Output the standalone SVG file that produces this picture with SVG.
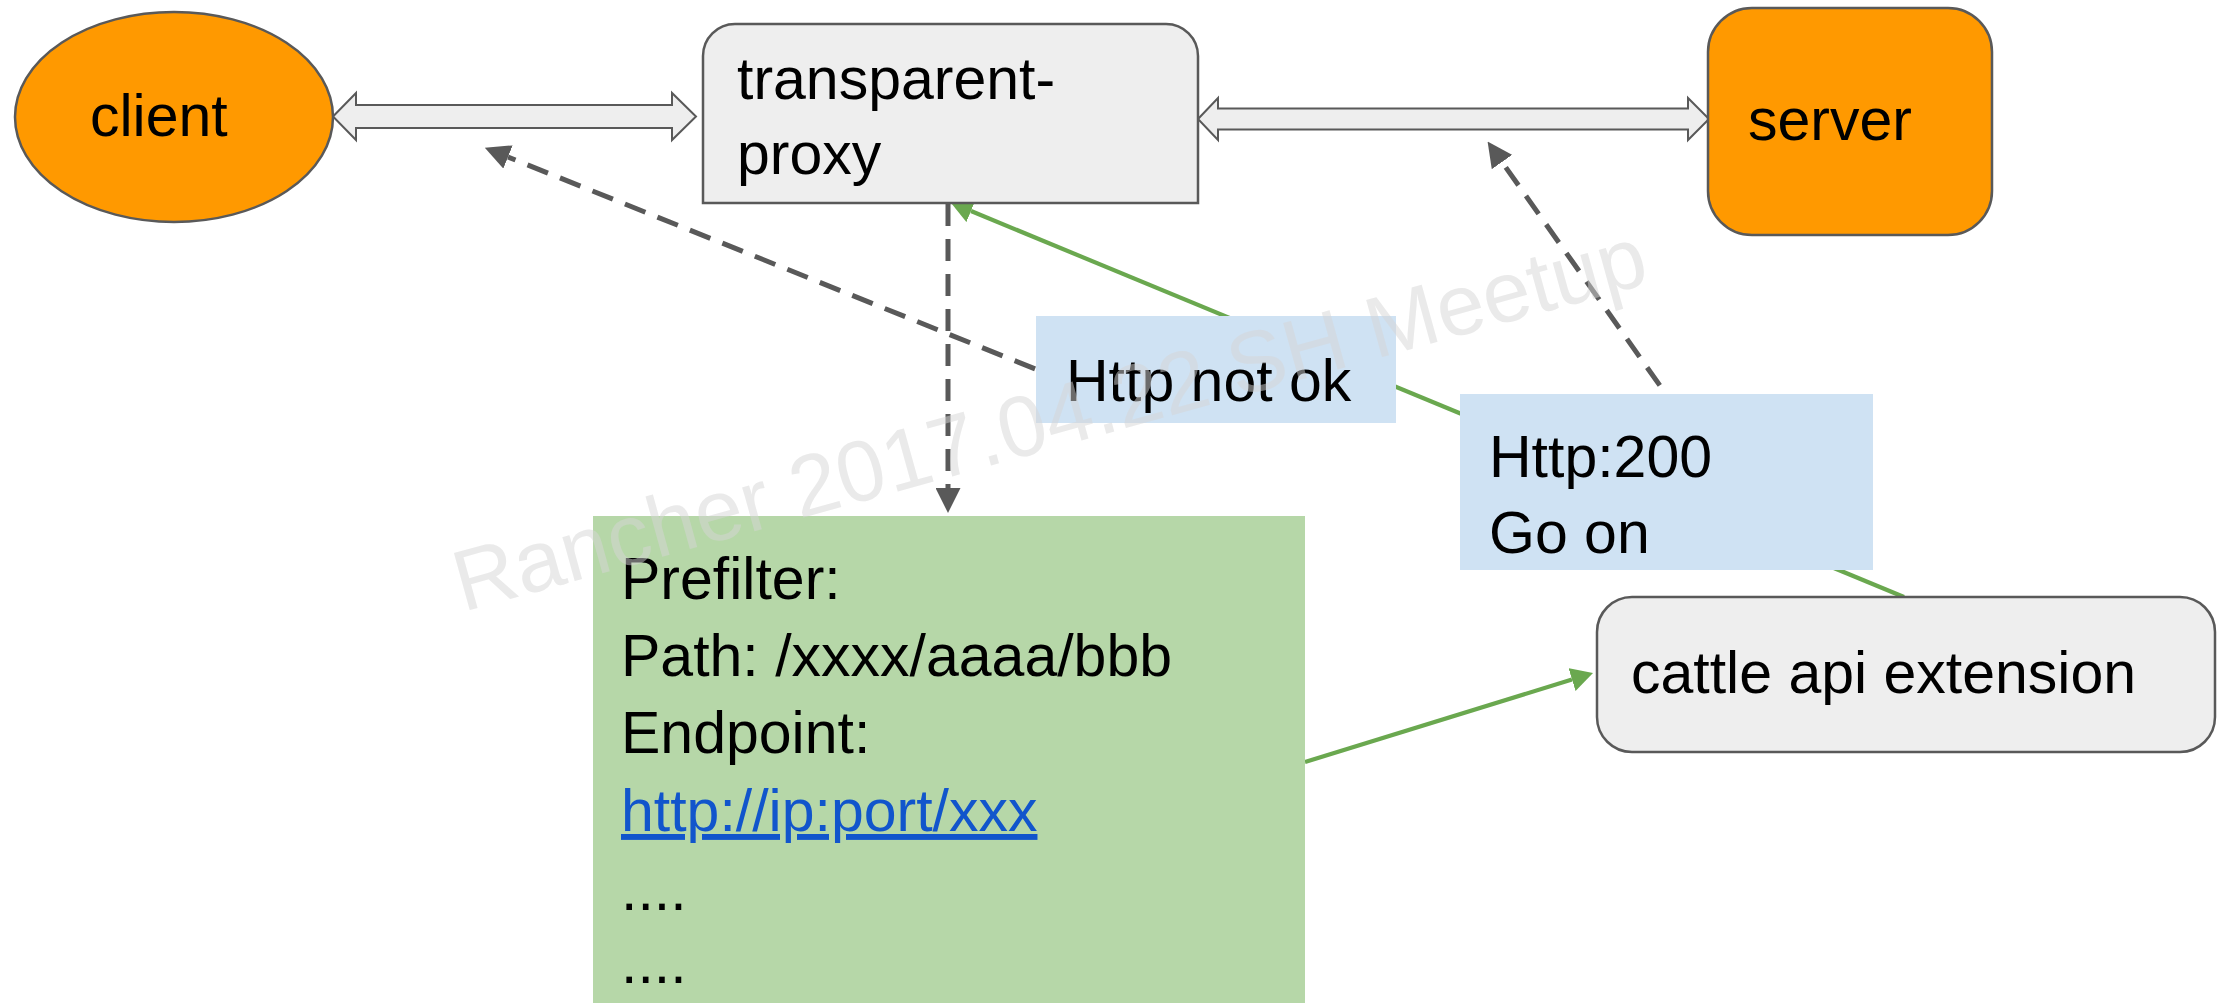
<svg xmlns="http://www.w3.org/2000/svg" width="2219" height="1003" viewBox="0 0 2219 1003">
<style>
.t{font-family:"Liberation Sans",Arial,sans-serif;font-size:59px;fill:#000}
.node{stroke:#595959;stroke-width:2.5}
.grey{fill:#eeeeee}
.orange{fill:#ff9900}
.label{fill:#cfe2f3}
.dash{fill:none;stroke:#595959;stroke-width:5;stroke-dasharray:22 13}
.green{fill:none;stroke:#6aa84f;stroke-width:4.2}
.block{fill:#eeeeee;stroke:#595959;stroke-width:2}
.link{fill:#1155cc;text-decoration:underline}
.wm{font-family:"Liberation Sans",Arial,sans-serif;font-size:86px;fill:#d6d6d6;opacity:0.5}
</style>
<defs>
<marker id="dh" viewBox="0 0 25 25" refX="0" refY="12.5" markerWidth="25" markerHeight="25" markerUnits="userSpaceOnUse" orient="auto">
<path d="M0,0 L25,12.5 L0,25 Z" fill="#595959"/>
</marker>
<marker id="gh" viewBox="0 0 22 24" refX="0" refY="12" markerWidth="22" markerHeight="24" markerUnits="userSpaceOnUse" orient="auto">
<path d="M0,0 L22,12 L0,24 Z" fill="#6aa84f"/>
</marker>
</defs>
<rect width="2219" height="1003" fill="#ffffff"/>

<g id="connectors">
<line class="green" x1="1904" y1="597" x2="971" y2="211" marker-end="url(#gh)"/>
<line class="dash" x1="1100" y1="395" x2="508" y2="157" marker-end="url(#dh)"/>
<line class="dash" x1="1680" y1="414" x2="1502" y2="162" marker-end="url(#dh)"/>
<line class="dash" x1="948" y1="204" x2="948" y2="488" marker-end="url(#dh)"/>
<line class="green" x1="1305" y1="762" x2="1572" y2="679.5" marker-end="url(#gh)"/>
<path class="block" d="M333,116.5 L356,93 L356,105 L672,105 L672,93 L696,116.5 L672,140 L672,128 L356,128 L356,140 Z"/>
<path class="block" d="M1198,119 L1218,98 L1218,108.5 L1688,108.5 L1688,98 L1709,119 L1688,140 L1688,129.5 L1218,129.5 L1218,140 Z"/>
</g>

<g id="client">
<ellipse class="node orange" cx="174" cy="117" rx="159" ry="105"/>
<text class="t" x="90" y="136">client</text>
</g>

<g id="transparent-proxy">
<path class="node grey" d="M703,203 L703,56 A32,32 0 0 1 735,24 L1166,24 A32,32 0 0 1 1198,56 L1198,203 Z"/>
<text class="t" x="737" y="99">transparent-</text>
<text class="t" x="737" y="174">proxy</text>
</g>

<g id="server">
<rect class="node orange" x="1708" y="8" width="284" height="227" rx="44" ry="44"/>
<text class="t" x="1748" y="140">server</text>
</g>

<g id="prefilter">
<rect x="593" y="516" width="712" height="500" fill="#b6d7a8"/>
<text class="t" x="621" y="599">Prefilter:</text>
<text class="t" x="621" y="676">Path: /xxxx/aaaa/bbb</text>
<text class="t" x="621" y="753">Endpoint:</text>
<text class="t link" x="621" y="831">http://ip:port/xxx</text>
<text class="t" x="621" y="910">....</text>
<text class="t" x="621" y="983">....</text>
</g>

<g id="label-not-ok">
<rect class="label" x="1036" y="316" width="360" height="107"/>
<text class="t" x="1066" y="401">Http not ok</text>
</g>

<g id="label-200">
<rect class="label" x="1460" y="394" width="413" height="176"/>
<text class="t" x="1489" y="477">Http:200</text>
<text class="t" x="1489" y="553">Go on</text>
</g>

<g id="cattle-api-extension">
<rect class="node grey" x="1597" y="597" width="618" height="155" rx="35" ry="35"/>
<text class="t" x="1631" y="693">cattle api extension</text>
</g>

<text class="wm" x="463" y="612" transform="rotate(-15.5 463 612)">Rancher 2017.04.22 SH Meetup</text>
</svg>
